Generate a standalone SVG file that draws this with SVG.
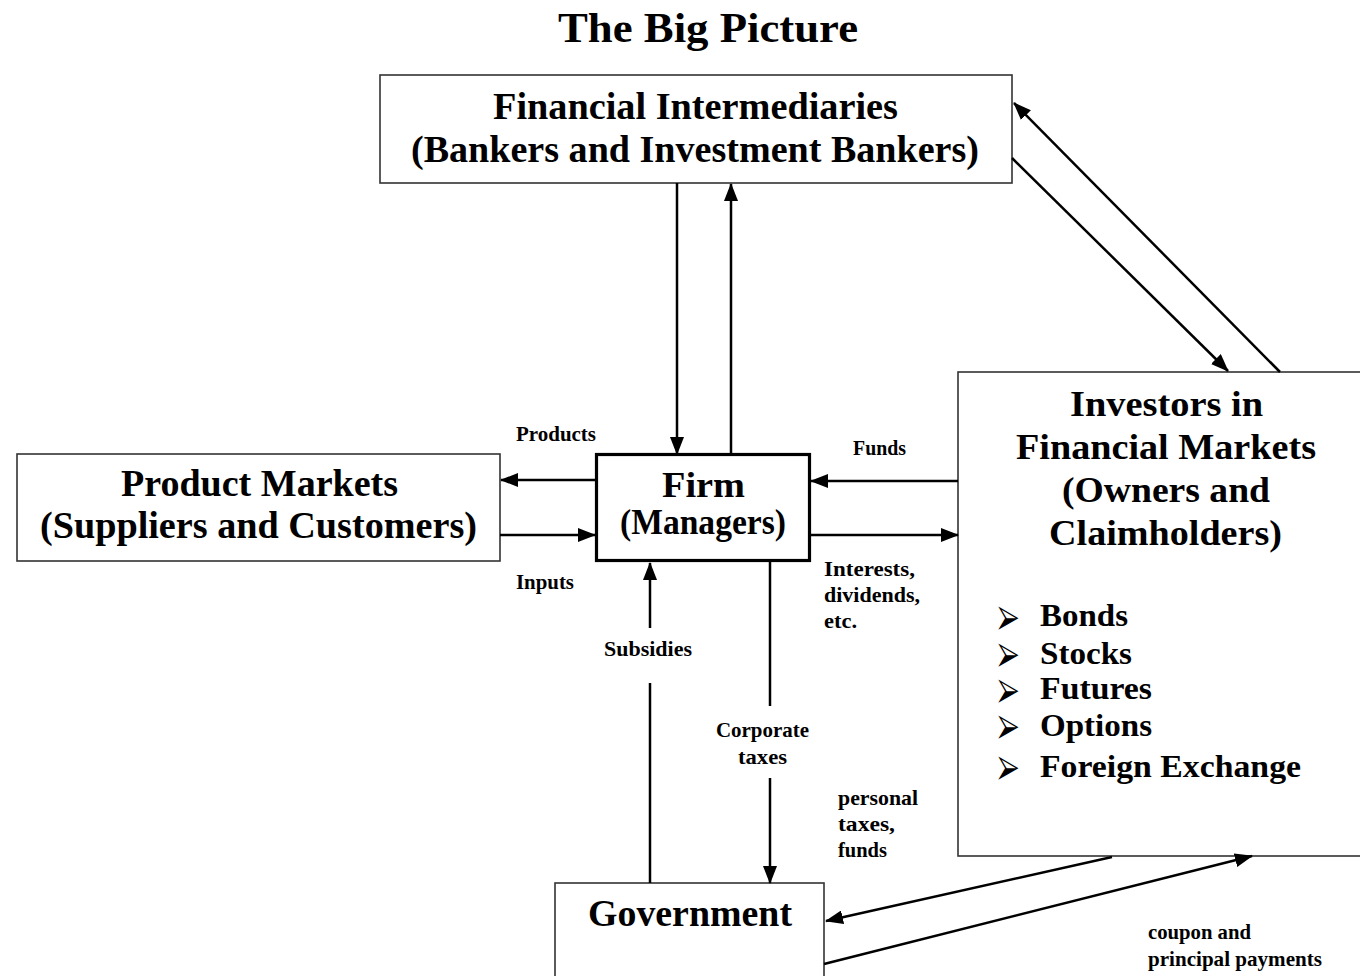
<svg xmlns="http://www.w3.org/2000/svg" width="1360" height="976" viewBox="0 0 1360 976">
<defs>
<marker id="ah" viewBox="0 0 18 14" refX="17" refY="7" markerWidth="18" markerHeight="14" markerUnits="userSpaceOnUse" orient="auto">
<path d="M0,0 L18,7 L0,14 z" fill="#000"/>
</marker>
<style>
.box{fill:#fff;stroke:#333;stroke-width:1.6}
.firm{fill:#fff;stroke:#000;stroke-width:3.2}
.big{font-family:"Liberation Serif","Times New Roman",serif;font-weight:bold;font-size:38px;fill:#000}
.mid{font-family:"Liberation Serif","Times New Roman",serif;font-weight:bold;font-size:35px;fill:#000}
.item{font-family:"Liberation Serif","Times New Roman",serif;font-weight:bold;font-size:32px;fill:#000}
.title{font-family:"Liberation Serif","Times New Roman",serif;font-weight:bold;font-size:42px;fill:#000}
.lbl{font-family:"Liberation Serif","Times New Roman",serif;font-weight:bold;font-size:21px;fill:#000}
.bul{font-family:"DejaVu Sans",sans-serif;font-size:29px;fill:#000}
.ln{stroke:#000;stroke-width:2.5;fill:none}
.arr{stroke:#000;stroke-width:2.5;fill:none;marker-end:url(#ah)}
</style>
</defs>
<rect width="1360" height="976" fill="#fff"/>
<text class="title" x="558" y="42" textLength="300" lengthAdjust="spacingAndGlyphs">The Big Picture</text>

<g id="fi">
<rect class="box" x="380" y="75" width="632" height="108"/>
<text class="big" x="493" y="119" textLength="405" lengthAdjust="spacingAndGlyphs">Financial Intermediaries</text>
<text class="big" x="411" y="162" textLength="568" lengthAdjust="spacingAndGlyphs">(Bankers and Investment Bankers)</text>
</g>

<g id="pm">
<rect class="box" x="17" y="454" width="483" height="107"/>
<text class="big" x="121" y="496" textLength="277" lengthAdjust="spacingAndGlyphs">Product Markets</text>
<text class="big" x="40" y="538" textLength="437" lengthAdjust="spacingAndGlyphs">(Suppliers and Customers)</text>
</g>

<g id="firm">
<rect class="firm" x="596.5" y="454.5" width="213" height="106"/>
<text class="mid" x="662" y="497" textLength="83" lengthAdjust="spacingAndGlyphs">Firm</text>
<text class="mid" x="620" y="534" textLength="166" lengthAdjust="spacingAndGlyphs">(Managers)</text>
</g>

<g id="inv">
<rect class="box" x="958" y="372" width="410" height="484"/>
<text class="mid" x="1070" y="416" textLength="193" lengthAdjust="spacingAndGlyphs">Investors in</text>
<text class="mid" x="1016" y="459" textLength="300" lengthAdjust="spacingAndGlyphs">Financial Markets</text>
<text class="mid" x="1062" y="502" textLength="208" lengthAdjust="spacingAndGlyphs">(Owners and</text>
<text class="mid" x="1049" y="545" textLength="233" lengthAdjust="spacingAndGlyphs">Claimholders)</text>
<text class="bul" x="998" y="626">⮚</text>
<text class="bul" x="998" y="663">⮚</text>
<text class="bul" x="998" y="699">⮚</text>
<text class="bul" x="998" y="735">⮚</text>
<text class="bul" x="998" y="776">⮚</text>
<text class="item" x="1040" y="626" textLength="88" lengthAdjust="spacingAndGlyphs">Bonds</text>
<text class="item" x="1040" y="664" textLength="92" lengthAdjust="spacingAndGlyphs">Stocks</text>
<text class="item" x="1040" y="699" textLength="112" lengthAdjust="spacingAndGlyphs">Futures</text>
<text class="item" x="1040" y="736" textLength="112" lengthAdjust="spacingAndGlyphs">Options</text>
<text class="item" x="1040" y="777" textLength="261" lengthAdjust="spacingAndGlyphs">Foreign Exchange</text>
</g>

<g id="gov">
<rect class="box" x="555" y="883" width="269" height="110"/>
<text class="big" x="588" y="926" textLength="204" lengthAdjust="spacingAndGlyphs">Government</text>
</g>

<g id="connectors">
<line class="arr" x1="677" y1="183" x2="677" y2="454"/>
<line class="arr" x1="731" y1="453" x2="731" y2="184"/>
<line class="arr" x1="595" y1="480" x2="501" y2="480"/>
<line class="arr" x1="500" y1="535" x2="595" y2="535"/>
<line class="arr" x1="958" y1="481" x2="811" y2="481"/>
<line class="arr" x1="811" y1="535" x2="958" y2="535"/>
<line class="arr" x1="1280" y1="372" x2="1014" y2="103"/>
<line class="arr" x1="1012" y1="158" x2="1228" y2="371"/>
<line class="ln" x1="650" y1="883" x2="650" y2="683"/>
<line class="arr" x1="650" y1="628" x2="650" y2="563"/>
<line class="ln" x1="770" y1="562" x2="770" y2="706"/>
<line class="arr" x1="770" y1="778" x2="770" y2="883"/>
<line class="arr" x1="1112" y1="857" x2="826" y2="921"/>
<line class="arr" x1="824" y1="964" x2="1252" y2="856"/>
</g>

<g id="labels">
<text class="lbl" x="516" y="441" textLength="80" lengthAdjust="spacingAndGlyphs">Products</text>
<text class="lbl" x="516" y="589" textLength="58" lengthAdjust="spacingAndGlyphs">Inputs</text>
<text class="lbl" x="853" y="455" textLength="53" lengthAdjust="spacingAndGlyphs">Funds</text>
<text class="lbl" x="824" y="576" textLength="91" lengthAdjust="spacingAndGlyphs">Interests,</text>
<text class="lbl" x="824" y="602" textLength="96" lengthAdjust="spacingAndGlyphs">dividends,</text>
<text class="lbl" x="824" y="628" textLength="33" lengthAdjust="spacingAndGlyphs">etc.</text>
<text class="lbl" x="604" y="656" textLength="88" lengthAdjust="spacingAndGlyphs">Subsidies</text>
<text class="lbl" x="716" y="737" textLength="93" lengthAdjust="spacingAndGlyphs">Corporate</text>
<text class="lbl" x="738" y="764" textLength="49" lengthAdjust="spacingAndGlyphs">taxes</text>
<text class="lbl" x="838" y="805" textLength="80" lengthAdjust="spacingAndGlyphs">personal</text>
<text class="lbl" x="838" y="831" textLength="57" lengthAdjust="spacingAndGlyphs">taxes,</text>
<text class="lbl" x="838" y="857" textLength="49" lengthAdjust="spacingAndGlyphs">funds</text>
<text class="lbl" x="1148" y="939" textLength="103" lengthAdjust="spacingAndGlyphs">coupon and</text>
<text class="lbl" x="1148" y="966" textLength="174" lengthAdjust="spacingAndGlyphs">principal payments</text>
</g>
</svg>
